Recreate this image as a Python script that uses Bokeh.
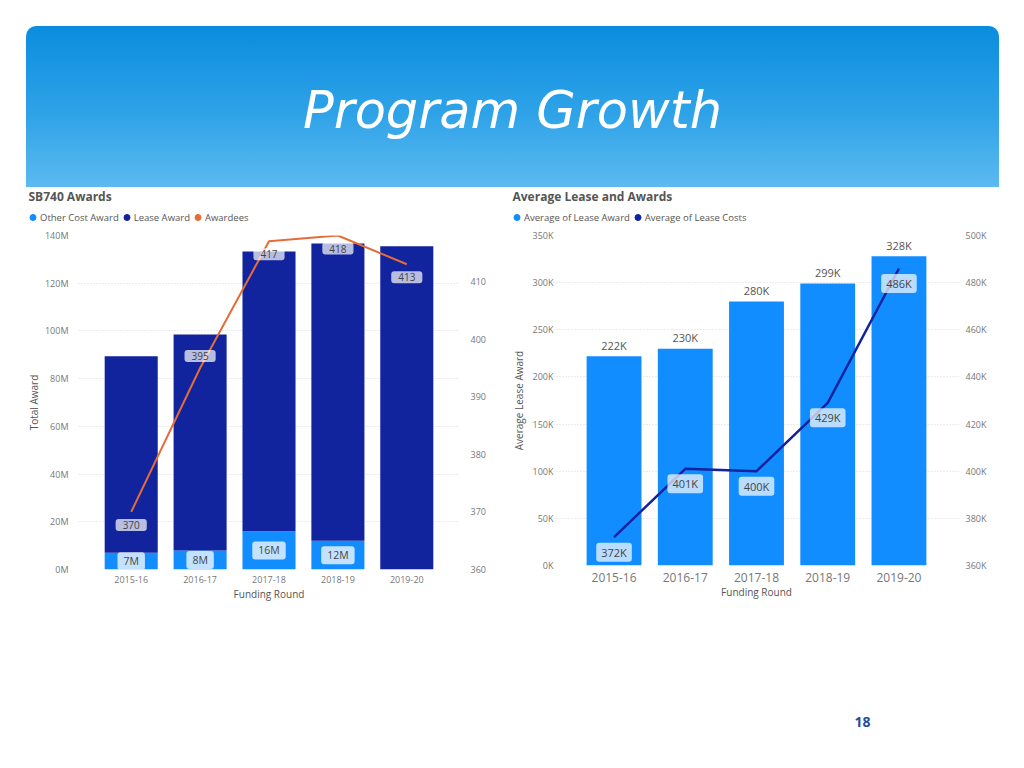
from bokeh.plotting import figure
from bokeh.models import Range1d, LinearAxis, FixedTicker, ColumnDataSource, Legend, LegendItem, FactorRange
from bokeh.layouts import column, row
from bokeh.embed import file_html
from bokeh.resources import INLINE
from bokeh.core.properties import value

# ---------------- data ----------------
rounds = ["2015-16", "2016-17", "2017-18", "2018-19", "2019-20"]
other_cost_award_m = [7, 8, 16, 12, 0]
lease_award_m = [82.4, 90.5, 117.3, 124.6, 135.5]
awardees = [370, 395, 417, 418, 413]
avg_lease_award_k = [222, 230, 280, 299, 328]
avg_lease_cost_k = [372, 401, 400, 429, 486]
total_award_ticks_m = [0, 20, 40, 60, 80, 100, 120, 140]
awardee_ticks = [360, 370, 380, 390, 400, 410]
avg_award_ticks_k = [0, 50, 100, 150, 200, 250, 300, 350]
avg_cost_ticks_k = [360, 380, 400, 420, 440, 460, 480, 500]

# ---------------- style ----------------
FONT = "Open Sans"
BLUE = "#118DFF"
NAVY = "#12239E"
ORANGE = "#E66C37"
TICK_C = "#777777"
TITLE_C = "#555555"
GRID_C = "#d9d9d9"


def style_axis(ax, size="9px"):
    ax.axis_line_color = None
    ax.major_tick_line_color = None
    ax.minor_tick_line_color = None
    ax.major_tick_out = 0
    ax.major_tick_in = 0
    ax.minor_tick_out = 0
    ax.minor_tick_in = 0
    ax.major_label_text_font = FONT
    ax.major_label_text_font_size = size
    ax.major_label_text_color = TICK_C
    ax.axis_label_text_font = FONT
    ax.axis_label_text_font_size = "10px"
    ax.axis_label_text_font_style = "normal"
    ax.axis_label_text_color = TITLE_C


def bare(width, height, **kw):
    f = figure(width=width, height=height, x_range=Range1d(0, width), y_range=Range1d(height, 0),
               min_border=0, toolbar_location=None, output_backend="svg", frame_align=False,
               x_axis_location=None, y_axis_location=None, outline_line_color=None, **kw)
    f.grid.visible = False
    return f


# ---------------- header ----------------
header = bare(973, 161, margin=(26, 0, 0, 26),
              styles={"background": "linear-gradient(180deg, #0A8DDE 0%, #2FA3E8 55%, #5CBAF0 100%)",
                      "border-radius": "10px 10px 0 0"})
header.background_fill_alpha = 0
header.border_fill_alpha = 0
header.text(x=[486], y=[84], text=["Program Growth"], text_font=value("DejaVu Sans"),
            text_font_style="italic", text_font_size="51px", text_color="white",
            text_align="center", text_baseline="middle")


# ---------------- strip (title + legend) ----------------
def strip(width, title, title_x, items):
    s = bare(width, 38)
    s.text(x=[title_x], y=[9], text=[title], text_font=value(FONT), text_font_size="12px",
           text_font_style="bold", text_color=TITLE_C, text_baseline="middle")
    its = []
    for lab, col in items:
        # dummy renderer outside the visible range, used only for its legend swatch
        r = s.scatter(x=[-100], y=[-100], marker="circle", size=8, fill_color=col, line_color=col)
        its.append(LegendItem(label=lab, renderers=[r]))
    leg = Legend(items=its, orientation="horizontal", location=(title_x - 3, -1), margin=0, padding=0,
                 spacing=0, glyph_width=15, glyph_height=18, label_height=18, label_standoff=0,
                 label_text_font=FONT, label_text_font_size="9.5px", label_text_color=TITLE_C,
                 background_fill_alpha=0, border_line_alpha=0)
    s.add_layout(leg)
    return s


LW = 60 + 381 + 33
RW = 61 + 406 + 45
left_strip = strip(LW, "SB740 Awards", 10,
                   [("Other Cost Award", BLUE), ("Lease Award", NAVY), ("Awardees", ORANGE)])
right_strip = strip(RW, "Average Lease and Awards", 20,
                    [("Average of Lease Award", BLUE), ("Average of Lease Costs", NAVY)])

# ---------------- left chart ----------------
left = figure(x_range=FactorRange(*rounds, range_padding=0.106), y_range=Range1d(0, 140),
              frame_width=381, frame_height=334, min_border_left=60, min_border_right=33,
              min_border_top=10, min_border_bottom=36, toolbar_location=None, output_backend="svg",
              outline_line_color=None, frame_align=False)
left.extra_y_ranges = {"aw": Range1d(360, 418)}
src_l = ColumnDataSource(dict(x=rounds, other=other_cost_award_m, lease=lease_award_m))
left.vbar_stack(["other", "lease"], x="x", width=0.77, color=[BLUE, NAVY], source=src_l, line_width=0)
left.line(x=rounds, y=awardees, y_range_name="aw", line_color=ORANGE, line_width=2)

oc = [(r, v) for r, v in zip(rounds, other_cost_award_m) if v > 0]
left.text(x=[r for r, v in oc], y=[v / 2 for r, v in oc], text=[f"{v:g}M" for r, v in oc],
          text_font=value(FONT), text_font_size="10.5px", text_color="#444444",
          text_align="center", text_baseline="middle",
          background_fill_color="white", background_fill_alpha=0.75, border_radius=3,
          padding=dict(left=6, right=6, top=2, bottom=2))
aw_off = [13 if i != 1 else -12 for i in range(len(awardees))]
left.text(x=rounds, y=awardees, y_range_name="aw", text=[str(v) for v in awardees], y_offset=aw_off,
          text_font=value(FONT), text_font_size="10px", text_color="#444444",
          text_align="center", text_baseline="middle",
          background_fill_color="white", background_fill_alpha=0.7, border_radius=3,
          padding=dict(left=7, right=7, top=2, bottom=2))

left.yaxis.ticker = FixedTicker(ticks=total_award_ticks_m)
left.yaxis.major_label_overrides = {t: f"{t}M" for t in total_award_ticks_m}
left.yaxis.axis_label = "Total Award"
left.yaxis.major_label_standoff = 10
left.yaxis.axis_label_standoff = 1
ax_r = LinearAxis(y_range_name="aw", ticker=FixedTicker(ticks=awardee_ticks))
left.add_layout(ax_r, "right")
ax_r.major_label_standoff = 11
left.xaxis.axis_label = "Funding Round"
left.xaxis.major_label_standoff = 6
left.xaxis.axis_label_standoff = 1
for a in left.axis:
    style_axis(a)
left.xgrid.visible = False
left.ygrid.grid_line_color = GRID_C
left.ygrid.grid_line_dash = "1 2"

# ---------------- right chart ----------------
right = figure(x_range=FactorRange(*rounds, range_padding=0.14), y_range=Range1d(0, 350),
               frame_width=406, frame_height=330, min_border_left=61, min_border_right=45,
               min_border_top=10, min_border_bottom=40, toolbar_location=None, output_backend="svg",
               outline_line_color=None, frame_align=False)
right.extra_y_ranges = {"cost": Range1d(360, 500)}
right.vbar(x=rounds, top=avg_lease_award_k, width=0.77, color=BLUE, line_width=0)
right.text(x=rounds, y=avg_lease_award_k, text=[f"{v}K" for v in avg_lease_award_k], y_offset=-11,
           text_font=value(FONT), text_font_size="11px", text_color="#555555",
           text_align="center", text_baseline="middle")
right.line(x=rounds, y=avg_lease_cost_k, y_range_name="cost", line_color=NAVY, line_width=2.5)
right.text(x=rounds, y=avg_lease_cost_k, y_range_name="cost", text=[f"{v}K" for v in avg_lease_cost_k],
           y_offset=15, text_font=value(FONT), text_font_size="11px", text_color="#444444",
           text_align="center", text_baseline="middle",
           background_fill_color="white", background_fill_alpha=0.7, border_radius=3,
           padding=dict(left=5, right=5, top=2, bottom=2))

right.yaxis.ticker = FixedTicker(ticks=avg_award_ticks_k)
right.yaxis.major_label_overrides = {t: f"{t}K" for t in avg_award_ticks_k}
right.yaxis.axis_label = "Average Lease Award"
right.yaxis.major_label_standoff = 0
right.yaxis.axis_label_standoff = 4
ax_r2 = LinearAxis(y_range_name="cost", ticker=FixedTicker(ticks=avg_cost_ticks_k))
ax_r2.major_label_overrides = {t: f"{t}K" for t in avg_cost_ticks_k}
right.add_layout(ax_r2, "right")
ax_r2.major_label_standoff = 6
right.xaxis.axis_label = "Funding Round"
right.xaxis.major_label_standoff = 7
right.xaxis.axis_label_standoff = 0
for a in right.axis:
    style_axis(a)
right.xaxis.major_label_text_font_size = "12px"
right.xgrid.visible = False
right.ygrid.grid_line_color = GRID_C
right.ygrid.grid_line_dash = "1 2"

# ---------------- footer ----------------
footer = bare(1008, 140)
footer.text(x=[862], y=[116], text=["18"], text_font=value(FONT), text_font_size="14px",
            text_font_style="bold", text_color="#1F4E9A", text_align="center", text_baseline="middle")

charts = row(column(left_strip, left, spacing=0), column(right_strip, right, spacing=0),
             spacing=0, margin=(0, 0, 0, 18))
page = column(header, charts, footer, spacing=0)

open("out.html", "w").write(file_html(page, INLINE, title="Program Growth"))
